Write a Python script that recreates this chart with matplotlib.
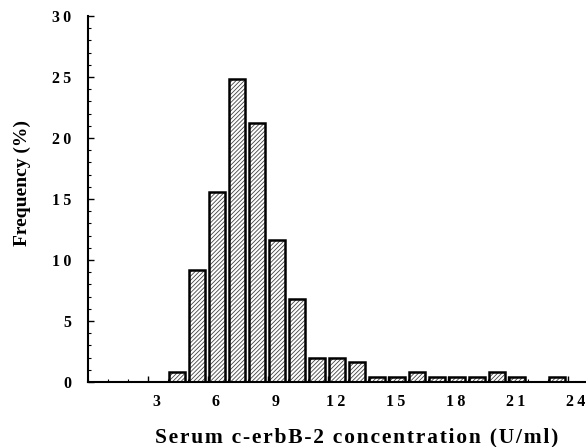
import numpy as np
import matplotlib
matplotlib.use("Agg")
import matplotlib.pyplot as plt
import matplotlib.transforms as mtransforms

# --- data: percentage of cases per 1 U/ml bin (bin start values) ---
bin_start = [4, 5, 6, 7, 8, 9, 10, 11, 12, 13, 14, 15, 16, 17, 18, 19, 20, 21, 22, 23]
freq_pct = [0.8, 9.2, 15.6, 24.8, 21.2, 11.6, 6.8, 2.0, 2.0, 1.6,
            0.4, 0.4, 0.8, 0.4, 0.4, 0.4, 0.8, 0.4, 0.0, 0.4]
xtick_vals = [3, 6, 9, 12, 15, 18, 21, 24]
ytick_vals = [0, 5, 10, 15, 20, 25, 30]

plt.rcParams['font.family'] = ['Liberation Serif', 'DejaVu Serif']
plt.rcParams['font.weight'] = 'bold'
plt.rcParams['hatch.linewidth'] = 0.6
plt.rcParams['hatch.color'] = '#444444'


def spaced(s, gap='\u2009'):
    # the original typesetting is loosely tracked
    return gap.join(s)


fig = plt.figure(figsize=(5.86, 4.47), dpi=100)
ax = fig.add_axes([88/586, 65/447, 498/586, 366/447])

xs = np.array(bin_start) + 0.05
vals = np.array(freq_pct)
keep = vals > 0
# hatched fill, then black outline on top
ax.bar(xs[keep], vals[keep], width=0.78, align='edge', color='white',
       hatch='////////', edgecolor='#444444', linewidth=0)
ax.bar(xs[keep], vals[keep], width=0.78, align='edge', color='none',
       edgecolor='black', linewidth=1.8)

ax.set_xlim(0, 24.9)
ax.set_ylim(0, 30)

ax.spines['top'].set_visible(False)
ax.spines['right'].set_visible(False)
ax.spines['left'].set_linewidth(1.5)
ax.spines['bottom'].set_linewidth(1.5)

ax.set_xticks(xtick_vals, [spaced(str(v)) for v in xtick_vals])
ax.set_xticks(np.arange(0, 25), minor=True)
ax.set_yticks(ytick_vals, [spaced(str(v)) for v in ytick_vals])
ax.set_yticks(np.arange(0, 31), minor=True)
ax.tick_params(axis='both', which='major', direction='in', length=4, width=1,
               labelsize=11.5)
ax.tick_params(axis='both', which='minor', direction='in', length=2.5, width=0.8)
ax.tick_params(axis='x', which='major', pad=9)
ax.tick_params(axis='y', which='major', pad=12)

# x labels sit a little right of the ticks, as in the original
offset = mtransforms.ScaledTranslation(8/100, 0, fig.dpi_scale_trans)
for lab in ax.get_xticklabels():
    lab.set_transform(lab.get_transform() + offset)

fig.text(357/586, 1 - 442/447,
         spaced('Serum c-erbB-2 concentration (U/ml)', '\u200a'),
         ha='center', va='baseline', fontsize=15.5, fontweight='bold')
fig.text(22/586, 1 - 183/447, 'Frequency (%)', rotation=90,
         ha='center', va='center', fontsize=14, fontweight='bold')

fig.savefig('out.png', dpi=100)
